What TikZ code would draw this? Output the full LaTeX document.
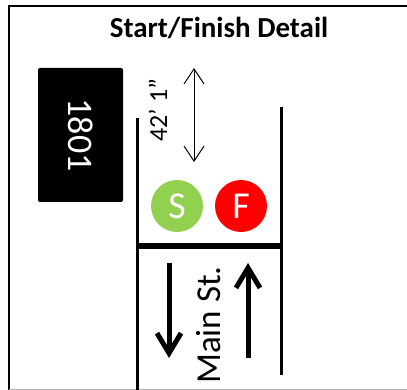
\documentclass[tikz,border=0pt]{standalone}
\usepackage{fontspec}
\setmainfont{Carlito}
\usetikzlibrary{arrows.meta}
\definecolor{startgreen}{HTML}{92D050}
\definecolor{finishred}{HTML}{FF0000}
\tikzset {
street/.style={line width=3pt},
building/.style={shape=rectangle,fill=black,rounded corners=2pt,text=white,minimum width=134pt,minimum height=85pt,inner sep=0pt},
marker/.style={shape=circle,minimum size=52pt,inner sep=0pt,text=white,font=\fontsize{38}{38}\selectfont},
dirarrow/.style={line width=5pt,-{Straight Barb[length=20pt,width=24pt]}}
}

\begin{document}
\begin{tikzpicture}
[x=1pt,y=-1pt]
\useasboundingbox (0,0) rectangle (407,390);
% frame
\draw[line width=2.5pt] (9,392) -- (9,6) -- (409,6);
\draw[gray!60,line width=1pt] (9,389) -- (407,389);
\node[font=\bfseries\fontsize{29}{29}\selectfont] (title) at (219,28) {Start/Finish Detail};

\node[building,rotate=-90,font=\fontsize{36}{36}\selectfont] (bldg) at (80.5,135) {1801};

% street
\coordinate (left top) at (137,118);
\coordinate (left bottom) at (137,392);
\coordinate (right top) at (281,107);
\coordinate (right bottom) at (281,375);
\draw[street] (left top) -- (left bottom);
\draw[street] (right top) -- (right bottom);
\draw[line width=6pt] (137,246.5) -- (281,246.5);

\node[marker,fill=startgreen] (start) at (177,206) {S};
\node[marker,fill=finishred] (finish) at (241,206) {F};

% distance
\coordinate (dist top) at (194,68);
\coordinate (dist bottom) at (194,162);
\draw[line width=1pt,{Straight Barb[length=15pt,width=20pt]}-{Straight Barb[length=15pt,width=20pt]}] (dist bottom) -- (dist top);
\node[rotate=90,font=\fontsize{26}{26}\selectfont] (dist) at (158,110) {42’ 1”};

% traffic
\coordinate (down from) at (169,263);
\coordinate (down to) at (169,358);
\coordinate (up from) at (248,358);
\coordinate (up to) at (248,263);
\draw[dirarrow] (down from) -- (down to);
\draw[dirarrow] (up from) -- (up to);
\node[rotate=90,font=\fontsize{35}{35}\selectfont] (main) at (209,325) {Main St.};
\end{tikzpicture}
\end{document}
